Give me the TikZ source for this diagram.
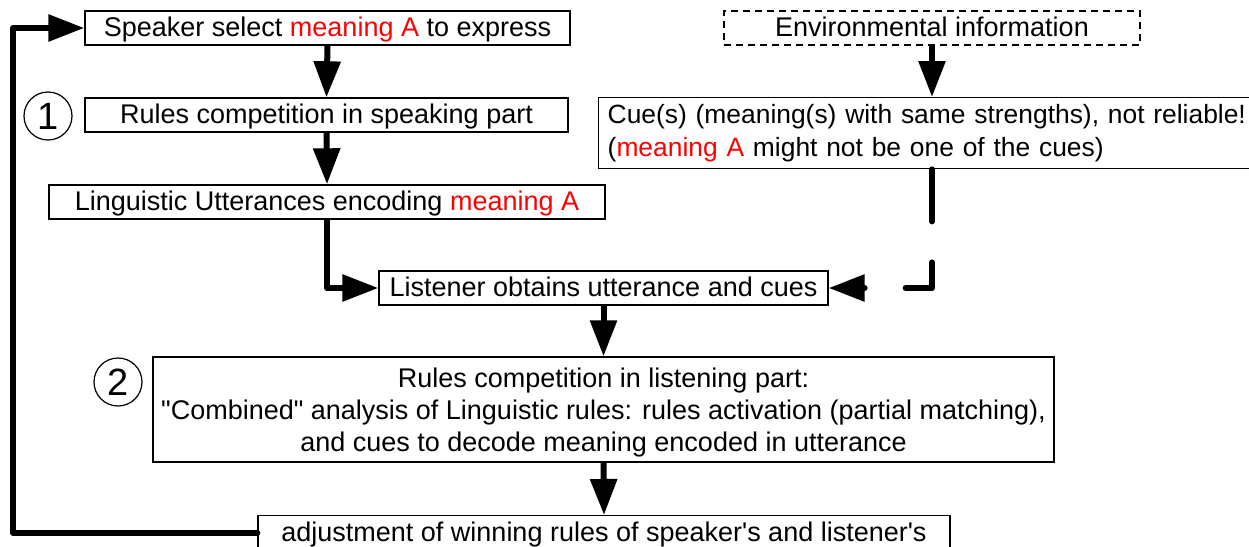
\documentclass[tikz,border=0pt]{standalone}
\usepackage{fontspec}
\setmainfont{Liberation Sans}
\usetikzlibrary{arrows.meta}
\begin{document}
\begin{tikzpicture}[x=1pt,y=-1pt,
  box/.style={draw, line width=1.4pt, minimum height=34pt, inner sep=0pt,
    font=\fontsize{27}{32}\selectfont, align=center},
  one/.style={text height=20pt, text depth=3pt},
  num/.style={draw, circle, line width=1.2pt, minimum size=48pt, inner sep=0pt,
    font=\fontsize{38}{40}\selectfont},
  flow/.style={line width=6pt, line join=round, -{Triangle[length=36pt,width=26pt]}},
  dflow/.style={flow, line cap=round, dash pattern=on 52pt off 41pt}]
\clip (0,0) rectangle (1249,546);
\fill[white] (0,0) rectangle (1249,546);

\node[box, one, minimum width=485pt] (speaker) at (327.5,28) {Speaker select \textcolor{red}{meaning A} to express};
\node[box, one, minimum width=483pt] (rules1) at (326.5,115) {Rules competition in speaking part};
\node[box, one, minimum width=556pt] (ling) at (327,202) {Linguistic Utterances encoding \textcolor{red}{meaning A}};
\node[box, one, dashed, dash pattern=on 7pt off 5pt, minimum width=416pt] (env) at (932,28) {Environmental information};
\node[box, anchor=north west, minimum height=71pt, text width=662pt, inner xsep=9pt, inner ysep=3pt, align=left,
  font=\fontsize{26.4}{33}\selectfont] (cue) at (598,97)
  {Cue(s) (meaning(s) with same strengths), not reliable!\\(\textcolor{red}{meaning A} might not be one of the cues)};
\node[box, one, minimum width=449pt] (listener) at (603.5,288) {Listener obtains utterance and cues};
\node[box, minimum width=901pt, minimum height=105pt, text depth=-1pt] (listen2) at (603.5,409.5)
  {Rules competition in listening part:\\\textquotedbl Combined\textquotedbl{} analysis of Linguistic rules: rules activation (partial matching),\\and cues to decode meaning encoded in utterance};
\node[box, one, anchor=north, minimum width=692pt] (adjust) at (604,515) {adjustment of winning rules of speaker\textquotesingle s and listener\textquotesingle s};
\node[num] (n1) at (48,116) {1};
\node[num] (n2) at (118,382) {2};
\coordinate (lc) at (13,0);

\draw[flow] (speaker.south) -- (rules1.north);
\draw[flow] (rules1.south) -- (ling.north);
\draw[flow] (ling.south) |- (listener.west);
\draw[flow] (env.south) -- (env.south |- cue.north);
\draw[dflow] (env.south |- cue.south) |- (listener.east);
\draw[flow] (listener.south) -- (listen2.north);
\draw[flow] (listen2.south) -- (adjust.north);
\draw[flow, line cap=round] (adjust.west) -- (adjust.west -| lc) |- (speaker.west);
\end{tikzpicture}
\end{document}
